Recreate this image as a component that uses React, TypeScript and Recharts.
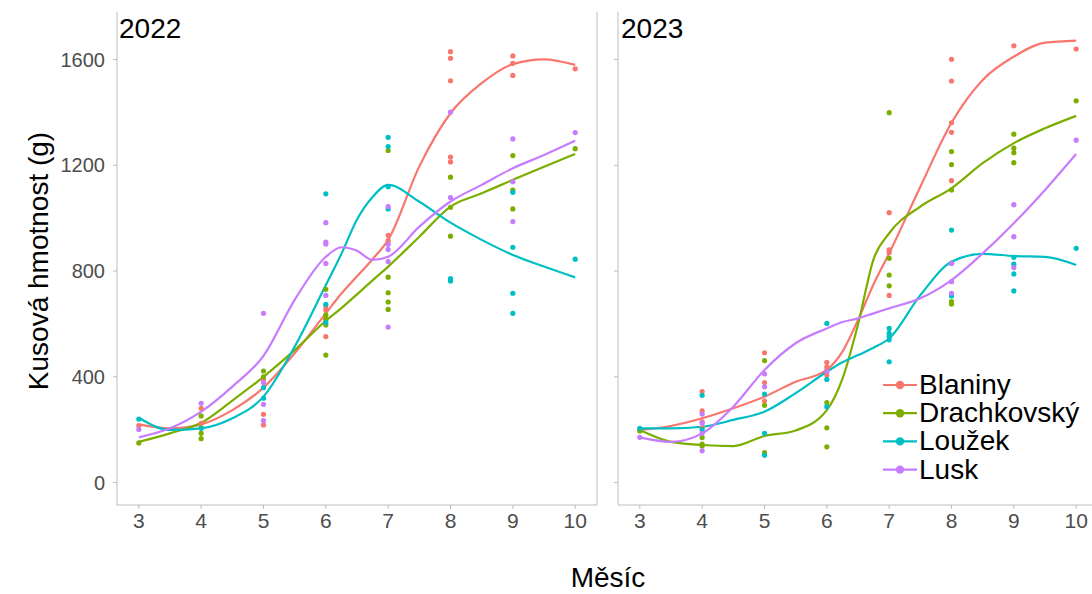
import { ComposedChart, Line, Scatter, XAxis, YAxis, ReferenceLine } from 'recharts'

const FONT = '"Liberation Sans", Arial, sans-serif'
const AXIS = '#bdbdbd'
const TICK_TEXT = '#4d4d4d'

const varieties = ['Blaniny', 'Drachkovský', 'Loužek', 'Lusk']
const colors = ['#F8766D', '#7CAE00', '#00BFC4', '#C77CFF']
const years = ['2022', '2023']
const monthTicks = [3, 4, 5, 6, 7, 8, 9, 10]
const weightTicks = [0, 400, 800, 1200, 1600]

const curveMonths = [3, 3.5, 4, 4.5, 5, 5.5, 6, 6.25, 6.5, 6.75, 7, 7.5, 8, 8.5, 9, 9.5, 10]

// 2022 smoothed curves
const blaninyCurve2022 = [220, 205, 220, 274, 359, 489, 640, 715, 780, 845, 918, 1196, 1397, 1511, 1583, 1601, 1580]
const drachCurve2022 = [154, 186, 226, 310, 400, 501, 612, 660, 712, 765, 817, 930, 1044, 1094, 1145, 1195, 1243]
const louzekCurve2022 = [245, 199, 205, 243, 325, 514, 747, 865, 995, 1080, 1126, 1062, 983, 918, 861, 817, 776]
const luskCurve2022 = [171, 205, 268, 363, 479, 691, 854, 890, 877, 842, 854, 968, 1063, 1126, 1189, 1239, 1293]

// 2023 smoothed curves
const blaninyCurve2023 = [199, 214, 243, 281, 325, 381, 426, 495, 615, 750, 867, 1119, 1361, 1523, 1611, 1664, 1672]
const drachCurve2023 = [199, 154, 142, 138, 176, 197, 274, 392, 598, 845, 943, 1044, 1113, 1208, 1284, 1340, 1387]
const louzekCurve2023 = [205, 205, 211, 237, 268, 338, 419, 455, 482, 510, 545, 709, 835, 865, 857, 854, 823]
const luskCurve2023 = [171, 154, 186, 287, 426, 527, 583, 607, 621, 640, 659, 697, 766, 867, 981, 1107, 1243]

// measured weights [month, grams]
const blaninyPts2022 = [[3, 215], [4, 281], [4, 224], [5, 390], [5, 258], [5, 218], [6, 668], [6, 653], [6, 617], [6, 552], [7, 935], [7, 915], [8, 1630], [8, 1605], [8, 1520], [8, 1231], [8, 1213], [9, 1614], [9, 1586], [9, 1540], [10, 1565]]
const drachPts2022 = [[3, 150], [4, 252], [4, 207], [4, 186], [4, 166], [5, 422], [5, 400], [6, 731], [6, 634], [6, 617], [6, 596], [6, 482], [7, 1256], [7, 777], [7, 718], [7, 683], [7, 655], [8, 1155], [8, 1041], [8, 932], [9, 1237], [9, 1106], [9, 1035], [10, 1263]]
const louzekPts2022 = [[3, 240], [4, 205], [5, 359], [5, 319], [6, 1092], [6, 674], [6, 605], [7, 1306], [7, 1271], [7, 1119], [7, 1035], [8, 771], [8, 762], [9, 1098], [9, 890], [9, 716], [9, 640], [10, 845]]
const luskPts2022 = [[3, 201], [4, 300], [5, 640], [5, 378], [5, 296], [5, 234], [6, 983], [6, 910], [6, 902], [6, 829], [6, 708], [7, 1044], [7, 901], [7, 882], [7, 836], [7, 588], [8, 1401], [8, 1078], [9, 1300], [9, 1138], [9, 987], [10, 1324]]

const blaninyPts2023 = [[3, 200], [4, 344], [4, 271], [4, 230], [4, 207], [5, 491], [5, 378], [5, 308], [6, 455], [6, 438], [6, 425], [6, 407], [7, 1021], [7, 880], [7, 870], [7, 708], [8, 1601], [8, 1519], [8, 1361], [8, 1325], [8, 1142], [9, 1652], [10, 1640]]
const drachPts2023 = [[3, 195], [4, 170], [4, 145], [4, 138], [5, 461], [5, 292], [5, 113], [6, 302], [6, 207], [6, 135], [7, 1399], [7, 848], [7, 785], [7, 744], [8, 1252], [8, 1203], [8, 1107], [8, 684], [8, 675], [9, 1318], [9, 1265], [9, 1248], [9, 1210], [10, 1444]]
const louzekPts2023 = [[3, 205], [4, 330], [4, 200], [5, 335], [5, 186], [5, 103], [6, 602], [6, 390], [6, 287], [7, 583], [7, 564], [7, 552], [7, 540], [7, 457], [8, 955], [8, 830], [8, 706], [9, 852], [9, 826], [9, 789], [9, 725], [10, 886]]
const luskPts2023 = [[3, 171], [4, 259], [4, 225], [4, 186], [4, 120], [5, 411], [5, 362], [6, 420], [8, 829], [8, 760], [8, 716], [9, 1051], [9, 930], [9, 813], [10, 1295]]

const curves = [
  [blaninyCurve2022, drachCurve2022, louzekCurve2022, luskCurve2022],
  [blaninyCurve2023, drachCurve2023, louzekCurve2023, luskCurve2023],
]
const points = [
  [blaninyPts2022, drachPts2022, louzekPts2022, luskPts2022],
  [blaninyPts2023, drachPts2023, louzekPts2023, luskPts2023],
]

const X_DOMAIN: [number, number] = [2.65, 10.35]
const Y_DOMAIN: [number, number] = [-85, 1780]

function Panel({ idx, showLabels }: { idx: number; showLabels: boolean }) {
  const yWidth = showLabels ? 117 : 18
  return (
    <ComposedChart
      width={yWidth + 480 + 2}
      height={594}
      margin={{ top: 12, right: 2, bottom: 0, left: 0 }}
    >
      <XAxis
        type="number"
        dataKey="x"
        domain={X_DOMAIN}
        ticks={monthTicks}
        allowDataOverflow
        height={89}
        stroke={AXIS}
        tickSize={4}
        tickMargin={4}
        tick={{ fontSize: 21, fill: TICK_TEXT, fontFamily: FONT }}
      />
      <YAxis
        type="number"
        domain={Y_DOMAIN}
        ticks={weightTicks}
        allowDataOverflow
        width={yWidth}
        stroke={AXIS}
        tickSize={4}
        tickMargin={8}
        tick={showLabels ? { fontSize: 20, fill: TICK_TEXT, fontFamily: FONT } : () => <g />}
      />
      <ReferenceLine x={X_DOMAIN[1]} stroke={AXIS} />
      {points[idx].map((pts, i) => (
        <Scatter
          key={'p' + i}
          data={pts.map(([m, v]) => ({ x: m, y: v }))}
          dataKey="y"
          fill={colors[i]}
          isAnimationActive={false}
          shape={(p: any) => <circle cx={p.cx} cy={p.cy} r={2.6} fill={colors[i]} />}
        />
      ))}
      {curves[idx].map((vals, i) => (
        <Line
          key={'c' + i}
          data={curveMonths.map((m, j) => ({ x: m, y: vals[j] }))}
          dataKey="y"
          type="monotone"
          stroke={colors[i]}
          strokeWidth={2.2}
          dot={false}
          activeDot={false}
          isAnimationActive={false}
        />
      ))}
    </ComposedChart>
  )
}

export default function App() {
  return (
    <div
      style={{
        position: 'absolute', left: 0, top: 0, width: 1092, height: 594,
        overflow: 'hidden', background: '#fff', fontFamily: FONT,
      }}
    >
      <div style={{ position: 'absolute', left: 0, top: 0 }}>
        <Panel idx={0} showLabels />
      </div>
      <div style={{ position: 'absolute', left: 600, top: 0 }}>
        <Panel idx={1} showLabels={false} />
      </div>
      <svg
        width={1092}
        height={594}
        style={{ position: 'absolute', left: 0, top: 0, pointerEvents: 'none' }}
        fontFamily={FONT}
      >
        <text x={119} y={38} fontSize={28} fill="#000">{years[0]}</text>
        <text x={621} y={38} fontSize={28} fill="#000">{years[1]}</text>
        <text
          transform="translate(48,261) rotate(-90)"
          textAnchor="middle"
          fontSize={28}
          fill="#000"
        >
          Kusová hmotnost (g)
        </text>
        <text x={608} y={587} textAnchor="middle" fontSize={28} fill="#000">Měsíc</text>
        {varieties.map((name, i) => {
          const cy = 385 + i * 28.2
          return (
            <g key={name}>
              <line x1={883} x2={917} y1={cy} y2={cy} stroke={colors[i]} strokeWidth={2.2} />
              <circle cx={900} cy={cy} r={4.2} fill={colors[i]} />
              <text x={919} y={cy + 9} fontSize={28} fill="#000">{name}</text>
            </g>
          )
        })}
      </svg>
    </div>
  )
}
